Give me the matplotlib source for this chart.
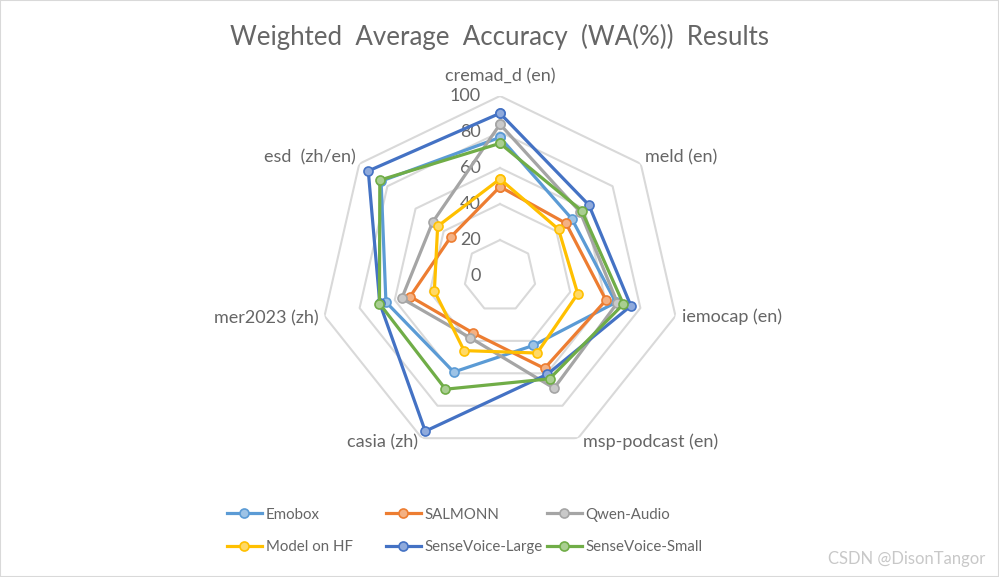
import numpy as np
import matplotlib
matplotlib.use("Agg")
import matplotlib.pyplot as plt
from matplotlib.colors import to_rgb
from matplotlib.patches import Rectangle

categories = ["cremad_d (en)", "meld (en)", "iemocap (en)", "msp-podcast (en)",
              "casia (zh)", "mer2023 (zh)", "esd  (zh/en)"]
series_names = ["Emobox", "SALMONN", "Qwen-Audio", "Model on HF",
                "SenseVoice-Large", "SenseVoice-Small"]
emobox = [77, 51, 66, 42.8, 59.2, 65, 84.5]
salmonn = [49.6, 46.9, 60.4, 57, 35, 51.2, 34.9]
qwen_audio = [84.3, 57, 66.9, 69.2, 38.1, 56, 47.9]
model_on_hf = [53.9, 41.6, 44.3, 47.5, 46, 37.4, 44.3]
sensevoice_large = [90.4, 63.2, 74.6, 60.6, 95.7, 68.5, 93.6]
sensevoice_small = [73.7, 58.1, 70.3, 63.4, 69.8, 68.7, 85.4]
radial_ticks = [0, 20, 40, 60, 80, 100]

series_values = [emobox, salmonn, qwen_audio, model_on_hf,
                 sensevoice_large, sensevoice_small]
colors = ["#5B9BD5", "#ED7D31", "#A5A5A5", "#FFC000", "#4472C4", "#70AD47"]

plt.rcParams["font.family"] = ["Lato", "DejaVu Sans"]
TXT = "#666666"


def lighten(c, f=0.4):
    r, g, b = to_rgb(c)
    return (r + (1 - r) * f, g + (1 - g) * f, b + (1 - b) * f)


fig = plt.figure(figsize=(9.99, 5.77), dpi=100)
fig.patches.append(Rectangle((0, 0), 1, 1, transform=fig.transFigure,
                             fill=False, edgecolor="#d9d9d9", lw=1.5))

cx, cy, R = 500, 276, 180
ax = fig.add_axes([(cx - R) / 999, (577 - cy - R) / 577, 2 * R / 999, 2 * R / 577],
                  projection="polar")
ax.set_theta_offset(np.pi / 2)
ax.set_theta_direction(-1)
ax.set_ylim(0, 100)
ax.grid(False)
ax.spines["polar"].set_visible(False)
ax.set_xticks([])
ax.set_yticks([])

n = len(categories)
theta = np.linspace(0, 2 * np.pi, n, endpoint=False)
theta_c = np.append(theta, theta[0])

# heptagon gridlines
for t in radial_ticks[1:]:
    ax.plot(theta_c, [t] * (n + 1), color="#d9d9d9", lw=1.5, zorder=1)

for name, vals, col in zip(series_names, series_values, colors):
    v = list(vals) + [vals[0]]
    ax.plot(theta_c, v, color=col, lw=2.3, marker="o", ms=6.5,
            mfc=lighten(col), mec=col, mew=1.2, label=name, zorder=3)

# radial value labels
for t in radial_ticks:
    ax.annotate(str(t), xy=(0, t), xytext=(-19, 0), textcoords="offset pixels",
                ha="right", va="center", fontsize=13, color=TXT, zorder=2)

# category labels
offsets = [(0, 12, "center", "bottom"), (4, 6, "left", "center"),
           (7, -1, "left", "center"), (5, -4, "left", "center"),
           (-4, -4, "right", "center"), (-6, -2, "right", "center"),
           (-4, 6, "right", "center")]
for th, lab, (dx, dy, ha, va) in zip(theta, categories, offsets):
    ax.annotate(lab, xy=(th, 100), xytext=(dx, dy), textcoords="offset pixels",
                ha=ha, va=va, fontsize=13, color=TXT, annotation_clip=False)

fig.text(0.5, 1 - 37 / 577, "Weighted  Average  Accuracy  (WA(%))  Results",
         ha="center", va="center", fontsize=18.6, color=TXT)

# legend: three columns placed like Excel
handles, labels = ax.get_legend_handles_labels()
col_x = [227, 386, 547]
for i, x in enumerate(col_x):
    hs = [handles[i], handles[i + 3]]
    ls = [labels[i], labels[i + 3]]
    fig.legend(hs, ls, loc="center left", bbox_to_anchor=(x / 999, 1 - 531 / 577),
               frameon=False, fontsize=10.8, handlelength=2.3, handletextpad=0.28,
               labelspacing=1.25, borderpad=0, borderaxespad=0, labelcolor=TXT)

fig.text(0.986, 0.018, "CSDN @DisonTangor", ha="right", va="bottom",
         fontsize=12, color="#c8c8c8")

fig.savefig("out.png", dpi=100)
